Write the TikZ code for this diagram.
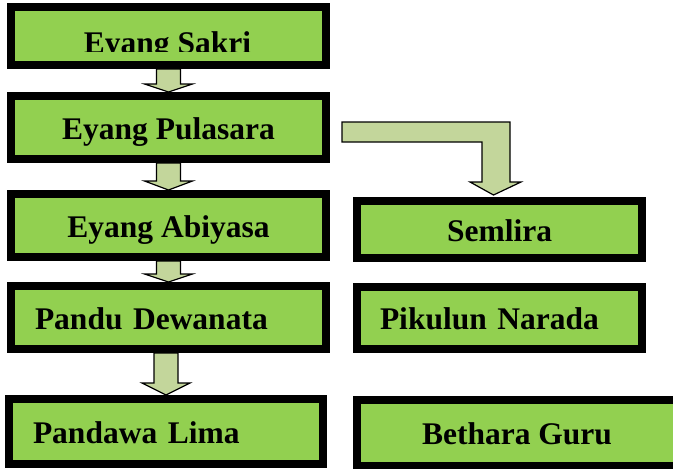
\documentclass[tikz,border=0pt]{standalone}
\usepackage{fontspec}
\setmainfont{Liberation Serif}
\usepackage{xcolor}
\usetikzlibrary{calc}
\definecolor{boxgreen}{HTML}{92D050}
\definecolor{arrowgreen}{HTML}{C3D69B}
\pgfdeclarelayer{bg}
\pgfsetlayers{bg,main}
\tikzset{
  lbl/.style={font=\bfseries\fontsize{31.5}{36}\selectfont,inner sep=0pt},
  fam/.style={lbl,draw=black,line width=8pt,fill=boxgreen,text height=23pt,text depth=0pt},
  famleft/.style={fam,align=left,inner xsep=#1,text width=\famtw},
  boxsize/.style 2 args={minimum width=#1,minimum height=#2},
  blk/.style={draw=black,line width=1.2pt,fill=arrowgreen,line join=miter}
}
\newcommand{\famtw}{267pt}
\newcommand{\famarrow}[3]{\draw[blk] ($(#2.north |- #1.south)+(-12,0)$) -- ($(#2.north)+(-12,-#3)$) -- ($(#2.north)+(-24,-#3)$) -- (#2.north) -- ($(#2.north)+(24,-#3)$) -- ($(#2.north)+(12,-#3)$) -- ($(#2.north |- #1.south)+(12,0)$) -- cycle;}

\begin{document}
\begin{tikzpicture}[x=1pt,y=-1pt]
\useasboundingbox (0,0) rectangle (673,469);
\node[fam,boxsize={315pt}{58pt}] (sakri) at (168.5,36) {};
\begin{scope} \clip (15,11) rectangle (322,51); \node[lbl,anchor=base] (sakrilbl) at (167.5,53) {Eyang Sakri}; \end{scope}
\node[fam,boxsize={315pt}{63pt}] (pulasara) at (168.5,127.5) {Eyang Pulasara};
\node[fam,boxsize={315pt}{63pt}] (abiyasa) at (168.5,225.5) {Eyang Abiyasa};
\node[famleft=24pt,boxsize={315pt}{63pt}] (pandu) at (168.5,317.5) {Pandu Dewanata};
\node[famleft=24pt,boxsize={314pt}{65pt},text width=266pt] (pandawa) at (166,431.5) {Pandawa Lima};
\node[fam,boxsize={285pt}{57pt}] (semlira) at (499.5,229.5) {Semlira};
\node[famleft=23pt,boxsize={285pt}{62pt},text width=239pt] (narada) at (499.5,318) {Pikulun Narada};
\node[fam,boxsize={320pt}{66pt}] (guru) at (517,433) {Bethara Guru};
\begin{pgfonlayer}{bg}
\famarrow{sakri}{pulasara}{8} \famarrow{pulasara}{abiyasa}{9}
\famarrow{abiyasa}{pandu}{8} \famarrow{pandu}{pandawa}{12}
\coordinate (tap) at ($(pulasara.east)+(12,-5.5)$); \coordinate (drop) at (493.5,195);
\draw[blk] (tap) -- ++(168,0) -- ++(0,60) -- ++(11,0) -- (drop) -- ++(-23.5,-13) -- ++(12,0) -- ++(0,-40) -- ($(tap)+(0,20)$) -- cycle;
\end{pgfonlayer}
\end{tikzpicture}
\end{document}
